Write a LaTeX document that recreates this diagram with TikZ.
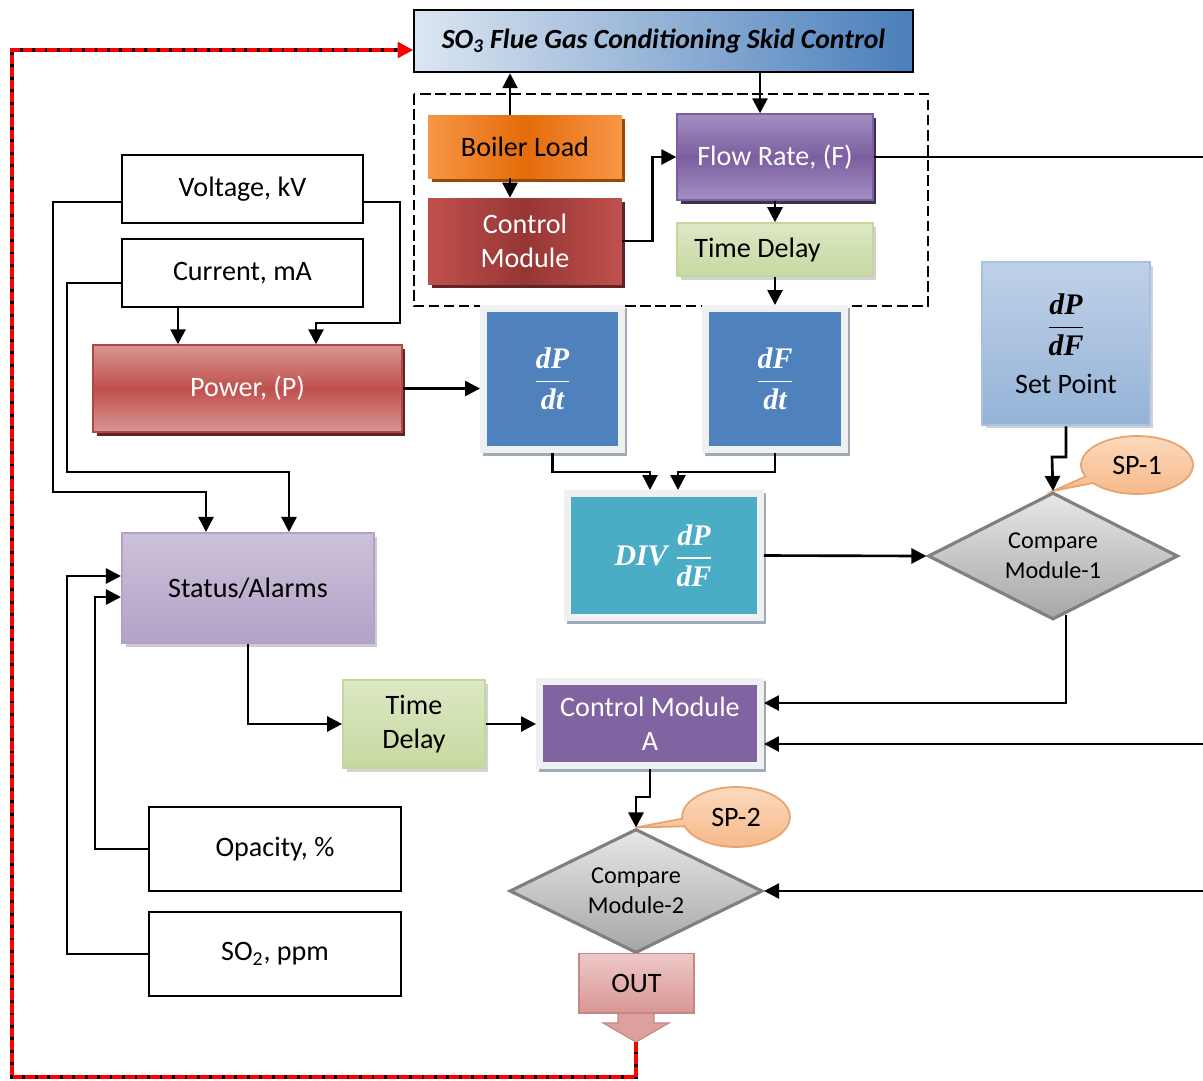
\documentclass[tikz,border=0pt]{standalone}
\usepackage{amsmath}
\usepackage{fontspec}
\setmainfont{Carlito}
\newfontfamily\serifmath{Liberation Serif}
\usetikzlibrary{arrows.meta,shapes.geometric,shapes.callouts,shadows,calc}

% bold italic serif fraction, as used in the derivative blocks
\newcommand{\bfrac}[2]{$\displaystyle\frac{\mbox{\serifmath\bfseries\itshape #1}}{\mbox{\serifmath\bfseries\itshape #2}}$}

\definecolor{ttlL}{HTML}{DCE6F2}
\definecolor{ttlR}{HTML}{4A7EBB}
\definecolor{orgM}{HTML}{E46C0A}
\definecolor{orgE}{HTML}{F79646}
\definecolor{orgD}{HTML}{984807}
\definecolor{redE}{HTML}{C0504D}
\definecolor{redM}{HTML}{963634}
\definecolor{redL}{HTML}{D99694}
\definecolor{redD}{HTML}{632523}
\definecolor{purM}{HTML}{7B5E9F}
\definecolor{purL}{HTML}{A390C2}
\definecolor{purD}{HTML}{3F3151}
\definecolor{purA}{HTML}{8064A2}
\definecolor{grnT}{HTML}{DCE8C4}
\definecolor{grnB}{HTML}{C3D69B}
\definecolor{lavT}{HTML}{CCC1DA}
\definecolor{lavB}{HTML}{B3A2C7}
\definecolor{blu}{HTML}{4F81BD}
\definecolor{tealc}{HTML}{4BACC6}
\definecolor{frm}{HTML}{EEF0F2}
\definecolor{frmsh}{HTML}{9FAAB5}
\definecolor{spT}{HTML}{BFD1E8}
\definecolor{spB}{HTML}{95B3D7}
\definecolor{gryL}{HTML}{DDDDDD}
\definecolor{gryD}{HTML}{A6A6A6}
\definecolor{gryB}{HTML}{808080}
\definecolor{calL}{HTML}{FCD9BC}
\definecolor{calD}{HTML}{F6B787}
\definecolor{calB}{HTML}{E9A46E}
\definecolor{outL}{HTML}{EDC9C8}
\definecolor{outD}{HTML}{D99694}

\tikzset{
  txt/.style={font=\fontsize{16}{19.5}\selectfont, align=center, inner sep=1pt},
  sz/.style 2 args={minimum width=#1, minimum height=#2},
  shd/.style={drop shadow={shadow xshift=0.07cm, shadow yshift=-0.07cm, fill=#1, opacity=1}},
  plainbox/.style={txt, draw=black, line width=1.4pt, fill=white},
  framed/.style={txt, text=white, fill=#1, draw=frm, line width=0.14cm,
    drop shadow={shadow xshift=0.05cm, shadow yshift=-0.06cm, fill=frmsh,
      draw=frmsh, line width=0.14cm, opacity=1}},
  fracbig/.style={font=\fontsize{17}{20}\selectfont},
  titlebox/.style={txt, draw=black, line width=1.4pt, left color=ttlL, right color=ttlR,
    font=\fontsize{15.8}{18}\selectfont\bfseries\itshape},
  greenbox/.style={txt, top color=grnT, bottom color=grnB!85!grnT, draw=grnB, line width=1pt, shd=gray!35},
  dia/.style={diamond, aspect=2, inner sep=0pt, align=center,
    font=\fontsize{13.8}{17}\selectfont,
    top color=gryL!70!white, bottom color=gryD, draw=gryB, line width=1.8pt},
  callbox/.style={ellipse callout, txt, top color=calL, bottom color=calD, draw=calB, line width=1pt},
  con/.style={line width=1.5pt, -{Triangle[length=0.3cm,width=0.3cm]}},
  lnk/.style={line width=1.5pt},
  feedback/.style={line width=2pt, draw=red, dash pattern=on 5.5pt off 1.6pt,
    -{Triangle[length=0.3cm,width=0.3cm]},
    preaction={draw=black, line width=2pt, solid}},
}

\begin{document}
\begin{tikzpicture}[x=0.02cm, y=-0.02cm]
\fill[white] (0,0) rectangle (1203,1080);
\useasboundingbox (0,0) rectangle (1203,1080);

% skid controller and its grouped sub-blocks
\node[titlebox, sz={9.98cm}{1.24cm}] (skid) at (663.5,41)
  {SO\textsubscript{3} Flue Gas Conditioning Skid Control};
\draw[line width=1.6pt, dash pattern=on 6pt off 2.6pt] (414,94) rectangle (928,306);

\node[txt, sz={3.88cm}{1.26cm}, left color=orgE, right color=orgE, middle color=orgM, shd=orgD]
  (boiler) at (525,146.5) {Boiler Load};
\node[txt, text=white, sz={3.88cm}{1.72cm}, left color=redE, right color=redE, middle color=redM, shd=redD]
  (ctrl) at (525,241) {Control\\Module};
\node[txt, text=white, sz={3.92cm}{1.72cm}, top color=purL, bottom color=purL, middle color=purM,
  draw=purM, line width=0.8pt, shd=purD] (flow) at (775,157) {Flow Rate, (F)};
\node[greenbox, sz={3.92cm}{1.06cm}] (td1) at (775,249.5) {Time Delay\hspace*{0.7cm}};

% derivative blocks
\node[framed=blu, sz={2.76cm}{2.82cm}, fracbig] (dPdt) at (552.5,379) {\bfrac{dP}{dt}};
\node[framed=blu, sz={2.78cm}{2.82cm}, fracbig] (dFdt) at (775,379) {\bfrac{dF}{dt}};
\node[framed=tealc, sz={3.86cm}{2.48cm}, fracbig] (div) at (664,555.5)
  {{\serifmath\bfseries\itshape DIV}\ \bfrac{dP}{dF}};

% set point and comparison
\node[txt, sz={3.36cm}{3.26cm}, top color=spT, bottom color=spB, draw=spB!80!white,
  line width=1.5pt, shd=gray!35] (setpt) at (1066,343.5)
  {{\fontsize{17}{20}\selectfont\bfrac{dP}{dF}}\\[9pt]Set Point};
\node[dia, sz={5cm}{2.54cm}] (d1) at (1053,556) {Compare\\Module-1};
\node[callbox, sz={2.24cm}{1.16cm}, callout absolute pointer={(d1.north)}] (sp1) at (1137,465) {SP-1};

% input measurements
\node[plainbox, sz={4.82cm}{1.36cm}] (volt) at (242.5,189) {Voltage, kV};
\node[plainbox, sz={4.82cm}{1.36cm}] (curr) at (242.5,273) {Current, mA};
\node[txt, text=white, sz={6.18cm}{1.74cm}, top color=redL, bottom color=redL, middle color=redE,
  draw=redE!90!black, line width=0.8pt, shd=redD] (power) at (247.5,388.5) {Power, (P)};
\node[txt, sz={5.04cm}{2.2cm}, top color=lavT, bottom color=lavB, draw=lavB, line width=1.2pt,
  shd=gray!40] (status) at (248,588) {Status/Alarms};
\node[greenbox, sz={2.84cm}{1.76cm}] (td2) at (414,724) {Time\\Delay};
\node[framed=purA, sz={4.42cm}{1.68cm}] (cmA) at (650,723.5) {Control Module\\A};
\node[plainbox, sz={5.04cm}{1.68cm}] (opac) at (275,849) {Opacity, \%};
\node[plainbox, sz={5.04cm}{1.68cm}] (so2) at (275,954) {SO\textsubscript{2}, ppm};

% second comparison and output
\node[dia, sz={5.06cm}{2.48cm}] (d2) at (636,891) {Compare\\Module-2};
\node[callbox, sz={2.16cm}{1.2cm}, callout absolute pointer={(d2.north)}] (sp2) at (736,817) {SP-2};
\filldraw[fill=outD!90!white, draw=outD!90!black, line width=0.6pt]
  (618,1013) -- (618,1023) -- (603,1023) -- (636,1042) -- (669,1023) -- (654,1023) -- (654,1013);
\node[txt, sz={2.3cm}{1.2cm}, top color=outL, bottom color=outD, draw=outD!90!black, line width=0.6pt]
  (out) at (636.5,983) {OUT};
\coordinate (outtip) at (636,1042);

% off-page signal ends
\coordinate (eF) at (1203,157);
\coordinate (eA) at (1203,744);
\coordinate (eC) at (1203,891);

% connectors in the skid group
\draw[con] (boiler.north -| 510,0) -- (skid.south -| 510,0);
\draw[con] (skid.south -| 760,0) -- (flow.north -| 760,0);
\draw[con] (boiler.south -| 510,0) -- (ctrl.north -| 510,0);
\draw[con] (ctrl.east) -- ++(30,0) |- (flow.west);
\draw[con] (flow.south) -- (td1.north);
\draw[con] (td1.south) -- (dFdt.north);
\draw[lnk] (flow.east) -- (eF);

% measurement wiring
\draw[con] (volt.west |- 0,202) -| (53,492) -| (status.north -| 206,0);
\draw[con] (curr.west |- 0,283) -| (67,472) -| (status.north -| 289,0);
\draw[con] (volt.east |- 0,202) -| (400,323) -| (power.north -| 316,0);
\draw[con] (curr.south -| 178,0) -- (power.north -| 178,0);
\draw[con] (power.east) -- (dPdt.west |- power.east);
\draw[con] (opac.west) -| (95,597) -- (status.west |- 0,597);
\draw[con] (so2.west) -| (67,576) -- (status.west |- 0,576);

% ratio and comparison paths
\draw[con] (dPdt.south) |- (650,472) -- (div.north -| 650,0);
\draw[con] (dFdt.south) |- (678,472) -- (div.north -| 678,0);
\draw[con] (div.east) -- (d1.west);
\draw[con] (setpt.south) |- (1052,457) -- (d1.north);
\draw[con] ($(d1.south)+(13,-6)$) |- (cmA.east |- 0,703);
\draw[con] (eA) -- (cmA.east |- eA);
\draw[con] (eC) -- (d2.east);
\draw[con] (status.south) |- (td2.west);
\draw[con] (td2.east) -- (cmA.west |- td2.east);
\draw[con] (cmA.south) |- (636,797) -- (d2.north);

% feedback loop to the skid controller
\draw[feedback] (outtip) |- (12,1077) |- (skid.west |- 0,50);
\end{tikzpicture}
\end{document}
